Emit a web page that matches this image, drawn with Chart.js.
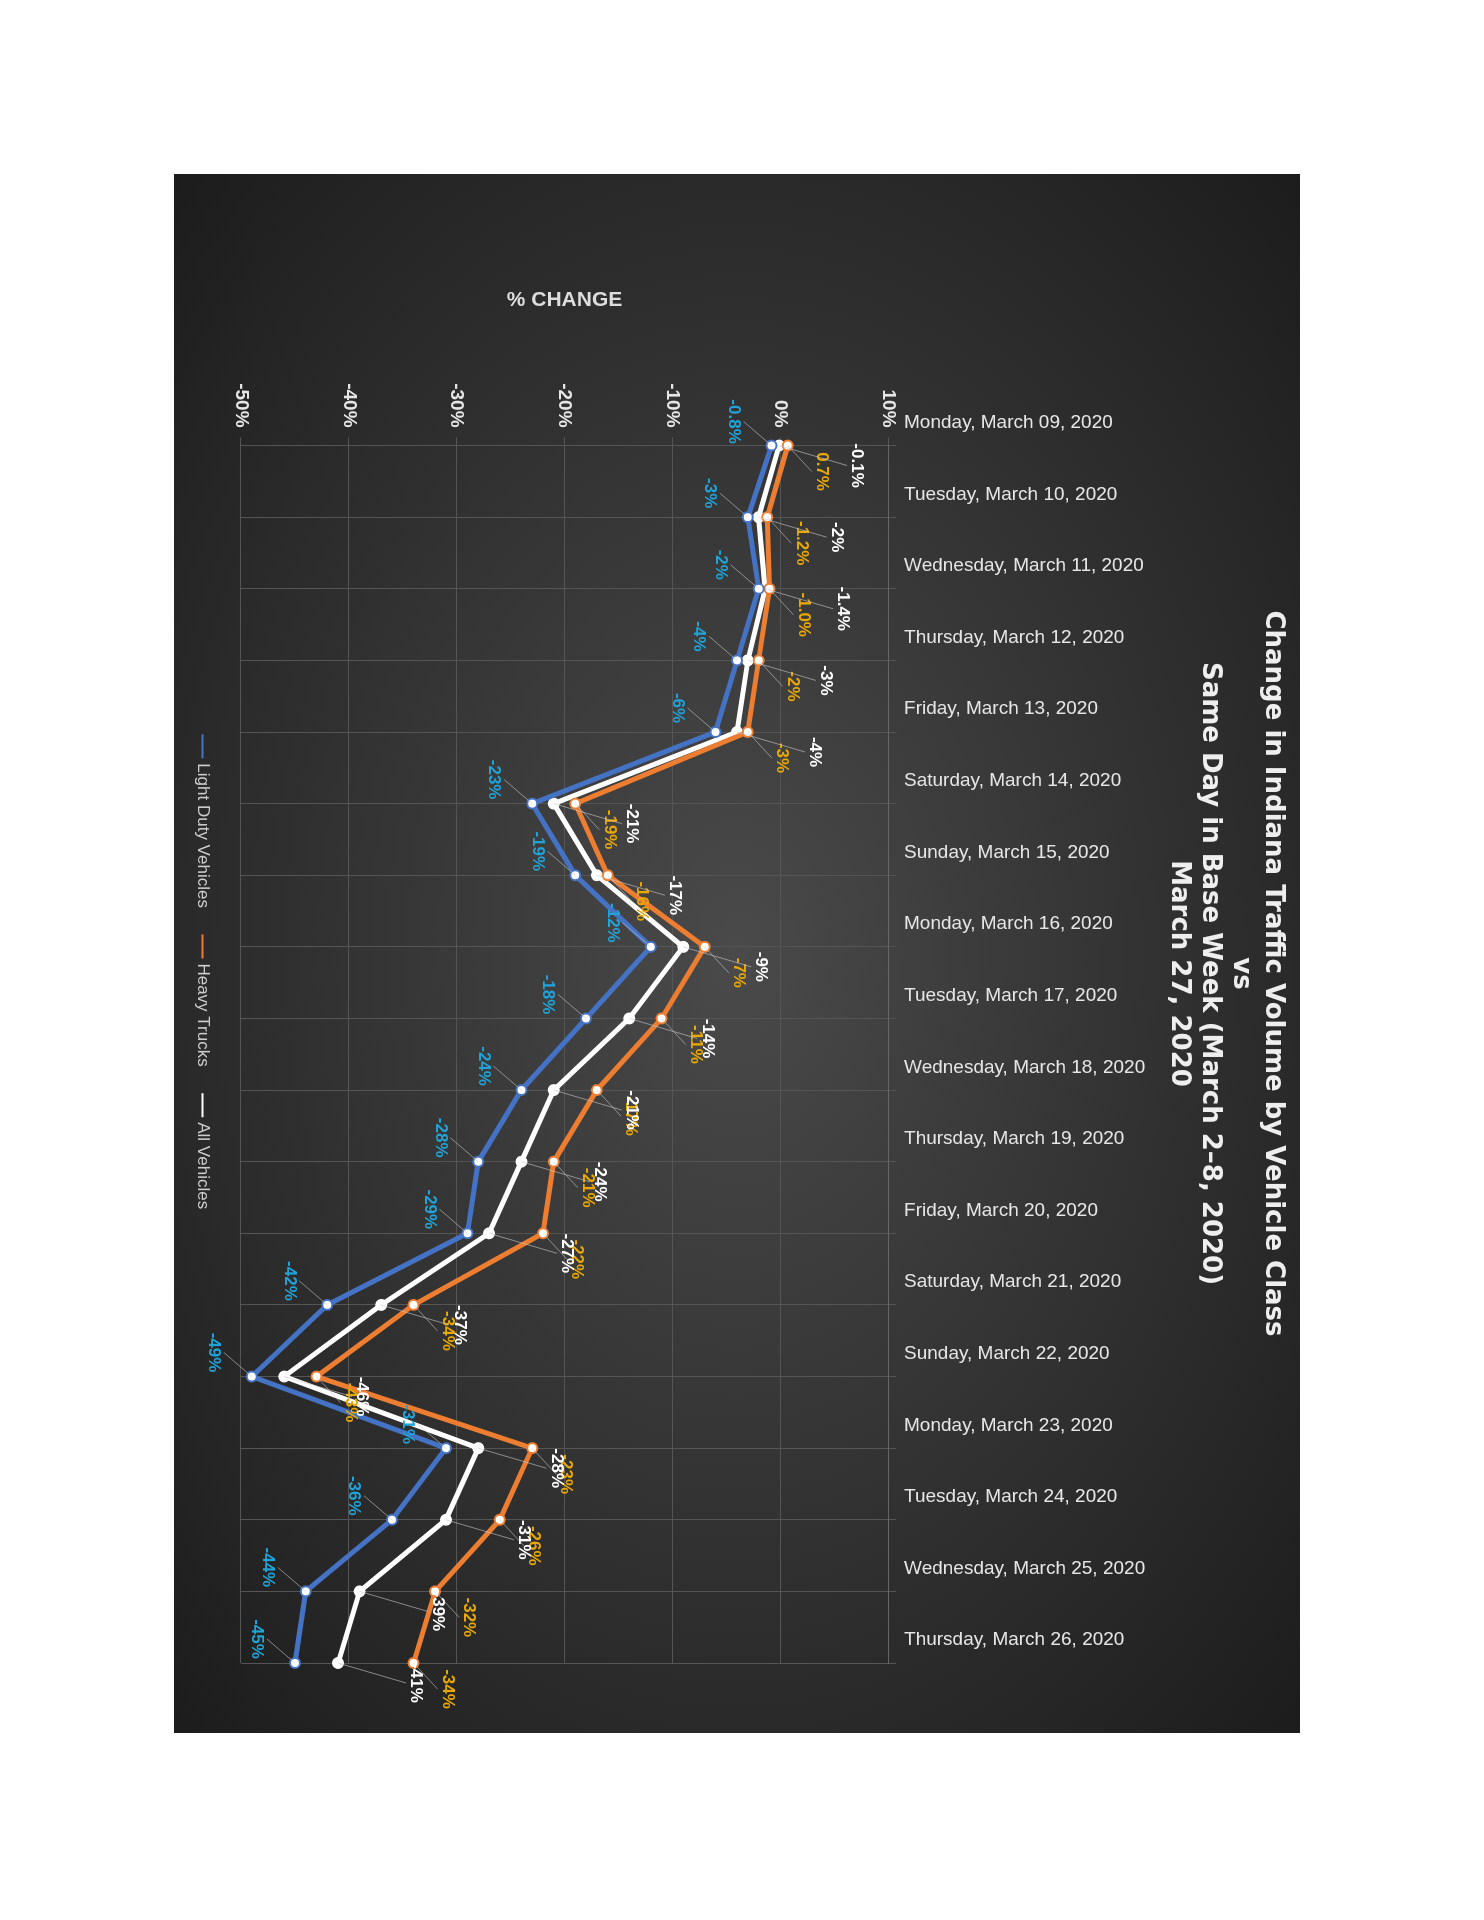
<!DOCTYPE html>
<html><head><meta charset="utf-8">
<script src="https://cdn.jsdelivr.net/npm/chart.js@4"></script>
<style>
body{margin:0;background:#fff;width:1484px;height:1920px;position:relative;overflow:hidden;font-family:Calibri,"Liberation Sans",sans-serif}
#wrap{position:absolute;left:1300px;top:174px;width:1559px;height:1126px;transform-origin:0 0;transform:rotate(90deg);
background:radial-gradient(ellipse at center,#4a4a4a 0%,#2e2e2e 60%,#1c1c1c 100%)}
</style></head><body>
<div id="wrap"><canvas id="c"></canvas></div>
<script>
const categories=["Monday, March 09, 2020","Tuesday, March 10, 2020","Wednesday, March 11, 2020","Thursday, March 12, 2020","Friday, March 13, 2020","Saturday, March 14, 2020","Sunday, March 15, 2020","Monday, March 16, 2020","Tuesday, March 17, 2020","Wednesday, March 18, 2020","Thursday, March 19, 2020","Friday, March 20, 2020","Saturday, March 21, 2020","Sunday, March 22, 2020","Monday, March 23, 2020","Tuesday, March 24, 2020","Wednesday, March 25, 2020","Thursday, March 26, 2020"];
const lightDuty=[-0.8,-3,-2,-4,-6,-23,-19,-12,-18,-24,-28,-29,-42,-49,-31,-36,-44,-45];
const heavyTrucks=[0.7,-1.2,-1.0,-2,-3,-19,-16,-7,-11,-17,-21,-22,-34,-43,-23,-26,-32,-34];
const allVehicles=[-0.1,-2,-1.4,-3,-4,-21,-17,-9,-14,-21,-24,-27,-37,-46,-28,-31,-39,-41];
const lightLabels=["-0.8%","-3%","-2%","-4%","-6%","-23%","-19%","-12%","-18%","-24%","-28%","-29%","-42%","-49%","-31%","-36%","-44%","-45%"];
const heavyLabels=["0.7%","-1.2%","-1.0%","-2%","-3%","-19%","-16%","-7%","-11%","-17%","-21%","-22%","-34%","-43%","-23%","-26%","-32%","-34%"];
const allLabels=["-0.1%","-2%","-1.4%","-3%","-4%","-21%","-17%","-9%","-14%","-21%","-24%","-27%","-37%","-46%","-28%","-31%","-39%","-41%"];
const yTicks=[-50,-40,-30,-20,-10,0,10];

const labelPlugin={id:'lbl',afterDatasetsDraw(chart){
  const ctx=chart.ctx;ctx.save();ctx.font='bold 17px "Liberation Sans",sans-serif';ctx.textAlign='center';ctx.textBaseline='middle';
  const cfg=[{t:lightLabels,c:'#1fa3d8',dx:-24,dy:38},{t:heavyLabels,c:'#e8a800',dx:26,dy:-34},{t:allLabels,c:'#ffffff',dx:20,dy:-78}];
  cfg.forEach((o,i)=>{chart.getDatasetMeta(i).data.forEach((p,j)=>{
    const x=p.x+o.dx,y=p.y+o.dy;
    ctx.strokeStyle='rgba(200,200,200,0.6)';ctx.lineWidth=1;ctx.beginPath();ctx.moveTo(p.x,p.y);ctx.lineTo(x,y+(o.dy>0?-10:10));ctx.stroke();
    ctx.fillStyle=o.c;ctx.fillText(o.t[j],x,y);});});
  ctx.restore();}};

const mk=(label,data,col,w)=>({label,data,borderColor:col,borderWidth:w,pointRadius:5,pointBackgroundColor:'#fff',pointBorderColor:col,pointBorderWidth:2,tension:0});
new Chart(document.getElementById('c'),{type:'line',
 data:{labels:categories,datasets:[mk('Light Duty Vehicles',lightDuty,'#4472C4',5),mk('Heavy Trucks',heavyTrucks,'#ED7D31',5),mk('All Vehicles',allVehicles,'#ffffff',5)]},
 options:{responsive:true,maintainAspectRatio:false,animation:false,
  layout:{padding:{left:110,right:70,top:0,bottom:10}},
  plugins:{
   title:{display:true,color:'#eee',font:{size:26,weight:'bold',family:'"DejaVu Sans"'},text:['Change in Indiana Traffic Volume by Vehicle Class','vs','Same Day in Base Week (March 2–8, 2020)','March 27, 2020'],padding:{top:12,bottom:10},lineHeight:1.05},
   legend:{position:'bottom',labels:{color:'#ccc',font:{size:17},usePointStyle:true,pointStyle:'line',boxWidth:40,padding:30}},
   tooltip:{enabled:false}},
  scales:{
   x:{position:'top',grid:{color:'#555'},border:{color:'#666'},ticks:{color:'#e6e6e6',font:{size:19},minRotation:90,maxRotation:90,autoSkip:false,padding:8,callback:function(v){return this.getLabelForValue(v);}}},
   y:{min:-50,max:10,afterBuildTicks:a=>{a.ticks=yTicks.map(v=>({value:v}));},grid:{color:'#555'},border:{display:false},
      ticks:{color:'#e6e6e6',font:{size:19,weight:'bold'},padding:10,callback:v=>v+'%'},
      title:{display:true,text:'% CHANGE',color:'#ddd',font:{size:21,weight:'bold'},padding:{bottom:60}}}}},
 plugins:[labelPlugin]});
</script></body></html>
